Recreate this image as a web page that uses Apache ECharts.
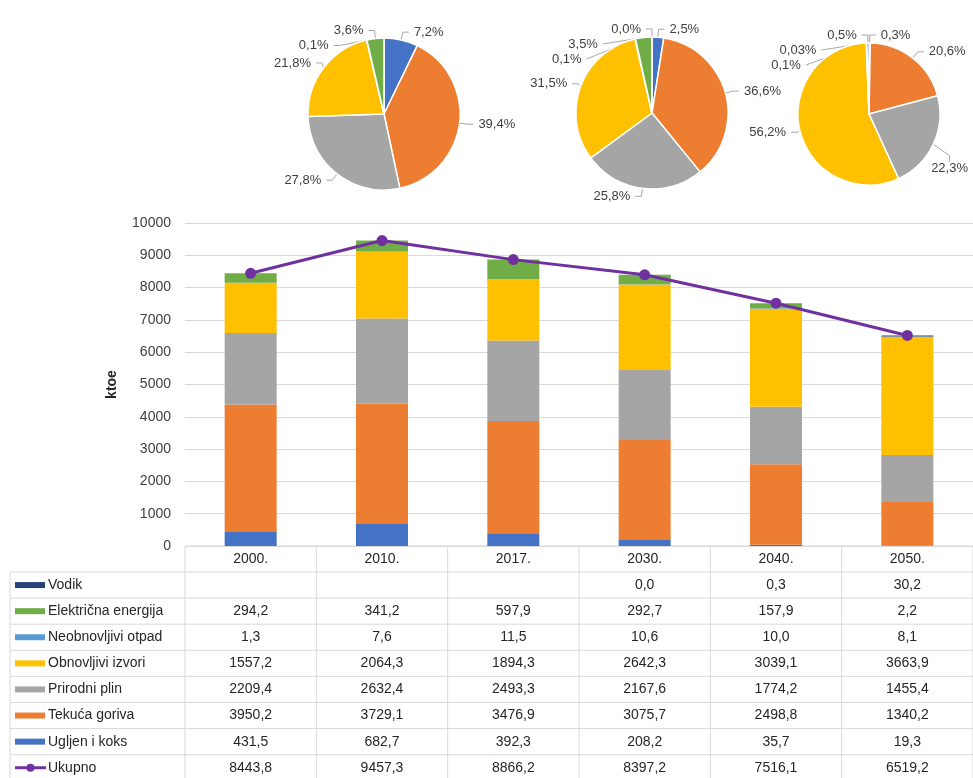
<!DOCTYPE html>
<html>
<head>
<meta charset="utf-8">
<script src="https://cdn.jsdelivr.net/npm/echarts@6/dist/echarts.min.js"></script>
<style>
  html, body { margin: 0; padding: 0; background: #fff; }
  #chart { width: 973px; height: 778px; }
</style>
</head>
<body>
<div id="chart"></div>
<script>
// data (ktoe)
const years = ['2000.', '2010.', '2017.', '2030.', '2040.', '2050.']
const vodik = [null, null, null, 0.0, 0.3, 30.2]
const elektricna = [294.2, 341.2, 597.9, 292.7, 157.9, 2.2]
const neobnovljivi = [1.3, 7.6, 11.5, 10.6, 10.0, 8.1]
const obnovljivi = [1557.2, 2064.3, 1894.3, 2642.3, 3039.1, 3663.9]
const plin = [2209.4, 2632.4, 2493.3, 2167.6, 1774.2, 1455.4]
const tekuca = [3950.2, 3729.1, 3476.9, 3075.7, 2498.8, 1340.2]
const ugljen = [431.5, 682.7, 392.3, 208.2, 35.7, 19.3]
const ukupno = [8443.8, 9457.3, 8866.2, 8397.2, 7516.1, 6519.2]
// which year each of the three pies shows
const pieYears = ['2010.', '2030.', '2050.']

// stack order, bottom to top
const stack = [
  { name: 'Ugljen i koks', data: ugljen, color: '#4472C4' },
  { name: 'Tekuća goriva', data: tekuca, color: '#ED7D31' },
  { name: 'Prirodni plin', data: plin, color: '#A5A5A5' },
  { name: 'Obnovljivi izvori', data: obnovljivi, color: '#FFC000' },
  { name: 'Neobnovljivi otpad', data: neobnovljivi, color: '#5B9BD5' },
  { name: 'Električna energija', data: elektricna, color: '#70AD47' },
  { name: 'Vodik', data: vodik, color: '#264478' }
]
const lineColor = '#7030A0'
const font = 'Liberation Sans'

const gridLeft = 185
const gridRight = 973
const gridTop = 223
const gridBottom = 546
const colW = (gridRight - gridLeft) / years.length
const rowH = 26.1
const headerTop = 546
const bodyTop = 572

function fmt(v) {
  if (v === null || v === undefined) return ''
  return v.toFixed(1).replace('.', ',')
}

function pctLabel(v, total) {
  let p = v / total * 100
  let s = (p > 0 && p < 0.05) ? p.toFixed(2) : p.toFixed(1)
  return s.replace('.', ',') + '%'
}

const series = stack.map(s => ({
  name: s.name,
  type: 'bar',
  stack: 'total',
  barWidth: 52,
  data: s.data,
  itemStyle: { color: s.color },
  emphasis: { disabled: true }
}))
series.push({
  name: 'Ukupno',
  type: 'line',
  data: ukupno,
  symbol: 'circle',
  symbolSize: 11,
  lineStyle: { color: lineColor, width: 3 },
  itemStyle: { color: lineColor },
  z: 5
})

const pieCenters = [[384, 114], [652, 113], [869, 114]]
const pieRadius = [76, 76, 71]
pieYears.forEach((y, k) => {
  let i = years.indexOf(y)
  let items = stack.filter(s => s.data[i] !== null).map(s => ({
    name: s.name, value: s.data[i], itemStyle: { color: s.color }
  }))
  let total = items.reduce((a, b) => a + b.value, 0)
  series.push({
    type: 'pie',
    center: pieCenters[k],
    radius: pieRadius[k],
    startAngle: 90,
    clockwise: true,
    data: items,
    itemStyle: { borderColor: '#fff', borderWidth: 1.5 },
    label: {
      show: true,
      position: 'outside',
      fontFamily: font,
      fontSize: 13,
      color: '#404040',
      overflow: 'none',
      formatter: p => pctLabel(p.value, total)
    },
    labelLine: { show: true, length: 8, length2: 6, lineStyle: { color: '#A6A6A6' } },
    // keep labels of the right-most pie inside the page
    labelLayout: p => {
      let r = p.labelRect
      if (r.x + r.width > 970) {
        return { x: 968 - r.width, y: r.y + r.height + 14, align: 'left', verticalAlign: 'middle' }
      }
    },
    emphasis: { disabled: true }
  })
})

// data table below the plot
const graphic = []
const lineStyle = { stroke: '#D9D9D9', lineWidth: 1 }
function hline(x1, x2, y) {
  graphic.push({ type: 'line', shape: { x1: x1, y1: y, x2: x2, y2: y }, style: lineStyle, silent: true })
}
function vline(x, y1, y2) {
  graphic.push({ type: 'line', shape: { x1: x, y1: y1, x2: x, y2: y2 }, style: lineStyle, silent: true })
}
function cellText(x, y, text, align) {
  graphic.push({
    type: 'text', x: x, y: y,
    style: { text: text, font: '14px "' + font + '"', fill: '#262626', align: align || 'center', verticalAlign: 'middle' },
    silent: true
  })
}

const rows = [
  { name: 'Vodik', data: vodik, color: '#264478' },
  { name: 'Električna energija', data: elektricna, color: '#70AD47' },
  { name: 'Neobnovljivi otpad', data: neobnovljivi, color: '#5B9BD5' },
  { name: 'Obnovljivi izvori', data: obnovljivi, color: '#FFC000' },
  { name: 'Prirodni plin', data: plin, color: '#A5A5A5' },
  { name: 'Tekuća goriva', data: tekuca, color: '#ED7D31' },
  { name: 'Ugljen i koks', data: ugljen, color: '#4472C4' },
  { name: 'Ukupno', data: ukupno, color: lineColor, line: true }
]

hline(gridLeft, gridRight, headerTop)
for (let r = 0; r <= rows.length; r++) {
  hline(10, gridRight, bodyTop + r * rowH)
}
vline(10, bodyTop, 778)
for (let c = 0; c <= years.length; c++) {
  vline(gridLeft + c * colW, headerTop, 778)
}
years.forEach((y, c) => cellText(gridLeft + (c + 0.5) * colW, headerTop + 13, y))
rows.forEach((row, r) => {
  let cy = bodyTop + r * rowH + rowH / 2
  if (row.line) {
    graphic.push({ type: 'line', shape: { x1: 15, y1: cy, x2: 46, y2: cy }, style: { stroke: row.color, lineWidth: 3 }, silent: true })
    graphic.push({ type: 'circle', shape: { cx: 30.5, cy: cy, r: 4 }, style: { fill: row.color }, silent: true })
  } else {
    graphic.push({ type: 'rect', shape: { x: 15, y: cy - 3, width: 30, height: 6 }, style: { fill: row.color }, silent: true })
  }
  cellText(48, cy, row.name, 'left')
  row.data.forEach((v, c) => cellText(gridLeft + (c + 0.5) * colW, cy, fmt(v)))
})

const chart = echarts.init(document.getElementById('chart'))
chart.setOption({
  animation: false,
  textStyle: { fontFamily: font },
  grid: { left: gridLeft, right: 973 - gridRight, top: gridTop, bottom: 778 - gridBottom },
  xAxis: {
    type: 'category',
    data: years,
    axisLine: { show: false },
    axisTick: { show: false },
    axisLabel: { show: false }
  },
  yAxis: {
    type: 'value',
    min: 0,
    max: 10000,
    interval: 1000,
    name: 'ktoe',
    nameLocation: 'middle',
    nameGap: 66,
    nameTextStyle: { fontFamily: font, fontSize: 14, fontWeight: 'bold', color: '#262626' },
    axisLine: { show: false },
    axisTick: { show: false },
    axisLabel: { fontFamily: font, fontSize: 14, color: '#404040', margin: 14, formatter: v => String(v) },
    splitLine: { lineStyle: { color: '#D9D9D9' } }
  },
  series: series,
  graphic: graphic
})
</script>
</body>
</html>
